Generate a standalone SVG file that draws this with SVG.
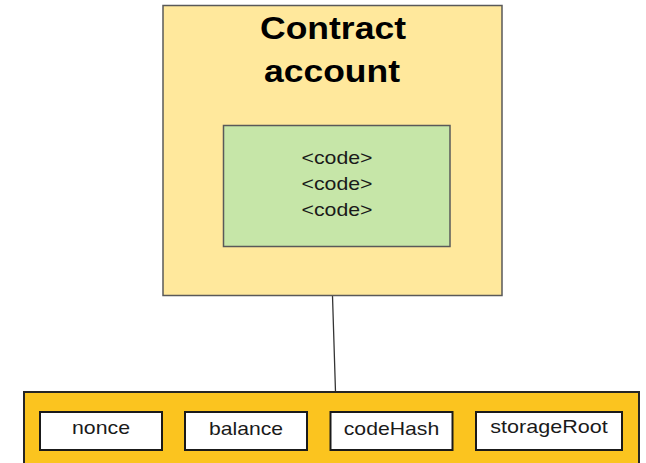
<svg xmlns="http://www.w3.org/2000/svg" width="646" height="463" viewBox="0 0 646 463">
<style>
.lbl{font-family:"Liberation Sans",Arial,sans-serif;fill:#1a1a1a;text-anchor:middle}
.title{font-family:"Liberation Sans",Arial,sans-serif;font-weight:bold;font-size:32px;fill:#000;text-anchor:middle}
.field{fill:#fff;stroke:#1a1a1a;stroke-width:2}
</style>
<rect width="646" height="463" fill="#fff"/>
<g id="connectors">
<line x1="332.5" y1="296" x2="335.5" y2="392" stroke="#333" stroke-width="1.3"/>
</g>
<g id="contract-account">
<rect x="163" y="5.5" width="339" height="290" fill="#ffe89c" stroke="#595959" stroke-width="1.5"/>
<text class="title" x="333" y="39" textLength="146" lengthAdjust="spacingAndGlyphs">Contract</text>
<text class="title" x="332" y="82" textLength="136" lengthAdjust="spacingAndGlyphs">account</text>
</g>
<g id="code">
<rect x="223.5" y="125.5" width="226.5" height="121" fill="#c6e6a8" stroke="#595959" stroke-width="1.5"/>
<text class="lbl" font-size="19" x="337" y="164" textLength="71" lengthAdjust="spacingAndGlyphs">&lt;code&gt;</text>
<text class="lbl" font-size="19" x="337" y="190" textLength="71" lengthAdjust="spacingAndGlyphs">&lt;code&gt;</text>
<text class="lbl" font-size="19" x="337" y="216" textLength="71" lengthAdjust="spacingAndGlyphs">&lt;code&gt;</text>
</g>
<g id="account-state">
<rect x="24" y="392" width="615" height="80" fill="#fbc41f" stroke="#262626" stroke-width="2"/>
</g>
<g id="nonce">
<rect class="field" x="40" y="412" width="122" height="38"/>
<text class="lbl" font-size="19" x="101" y="434" textLength="58" lengthAdjust="spacingAndGlyphs">nonce</text>
</g>
<g id="balance">
<rect class="field" x="185" y="412" width="122" height="38"/>
<text class="lbl" font-size="19" x="246" y="435" textLength="74" lengthAdjust="spacingAndGlyphs">balance</text>
</g>
<g id="codeHash">
<rect class="field" x="330.5" y="412" width="122" height="38"/>
<text class="lbl" font-size="19" x="391.5" y="435" textLength="95.5" lengthAdjust="spacingAndGlyphs">codeHash</text>
</g>
<g id="storageRoot">
<rect class="field" x="476" y="412" width="146" height="38"/>
<text class="lbl" font-size="19" x="549" y="433" textLength="117.5" lengthAdjust="spacingAndGlyphs">storageRoot</text>
</g>
</svg>
